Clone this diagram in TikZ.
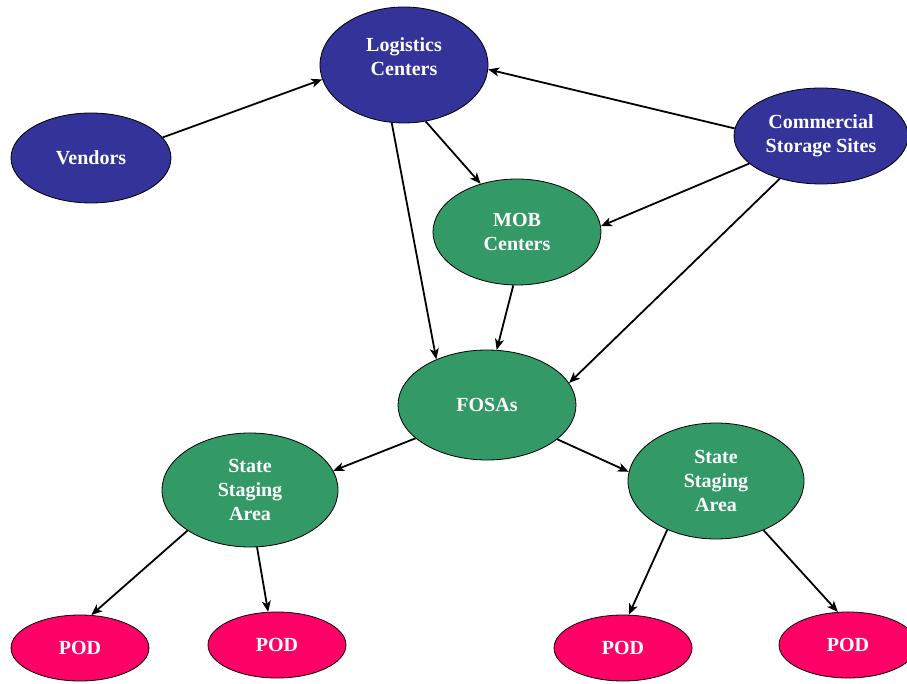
\documentclass[tikz,border=0pt]{standalone}
\usepackage{fontspec}
\setmainfont{Liberation Serif}
\usetikzlibrary{arrows.meta,shapes.geometric}
\definecolor{navy}{HTML}{333399}
\definecolor{grn}{HTML}{339966}
\definecolor{pnk}{HTML}{FF0066}
\begin{document}
\begin{tikzpicture}[x=1pt,y=1pt,
  base/.style={ellipse,draw=black,line width=0.8pt,inner sep=0pt,text=white,
    font=\fontsize{20}{24}\selectfont\bfseries,align=center},
  bluenode/.style={base,fill=navy},
  greennode/.style={base,fill=grn},
  podnode/.style={base,fill=pnk,minimum width=138pt,minimum height=66pt},
  txt/.style={text=white,font=\fontsize{20}{24}\selectfont\bfseries,align=center,inner sep=0pt},
  arr/.style={-{Stealth[length=11pt,width=9pt,inset=3pt]},line width=1.8pt,black}]
\clip (0,0) rectangle (907,683);
\fill[white] (0,0) rectangle (907,683);
% nodes
\node[bluenode,minimum width=168pt,minimum height=116pt] (lc) at (404,618) {};
\node[txt] (lct) at (404,626) {Logistics\\Centers};
\node[bluenode,minimum width=160pt,minimum height=90pt] (ven) at (91,525) {Vendors};
\node[bluenode,minimum width=174pt,minimum height=96pt] (css) at (821,547) {Commercial\\Storage Sites};
\node[greennode,minimum width=168pt,minimum height=106pt] (mob) at (517,451) {MOB\\Centers};
\node[greennode,minimum width=178pt,minimum height=110pt] (fosa) at (487,278) {FOSAs};
\node[greennode,minimum width=176pt,minimum height=114pt] (ssal) at (250,193) {State\\Staging\\Area};
\node[greennode,minimum width=176pt,minimum height=116pt] (ssar) at (716,202) {State\\Staging\\Area};
\node[podnode] (pod1) at (80,35) {POD};
\node[podnode] (pod2) at (277,38) {POD};
\node[podnode] (pod3) at (623,35) {POD};
\node[podnode] (pod4) at (848,38) {POD};
% connectors
\draw[arr] (ven.16) -- (lc.190);
\draw[arr] (lc.258) -- (fosa.138);
\draw[arr] (lc.291) -- (mob.127);
\draw[arr] (css.175) -- (lc.357);
\draw[arr] (css.201) -- (mob.4);
\draw[arr] (css.226) -- (fosa.15);
\draw[arr] (mob.266) -- (fosa.80);
\draw[arr] (fosa.205) -- (ssal.13);
\draw[arr] (fosa.334) -- (ssar.174);
\draw[arr] (ssal.213) -- (pod1.71);
\draw[arr] (ssal.277) -- (pod2.105);
\draw[arr] (ssar.225) -- (pod3.80);
\draw[arr] (ssar.314) -- (pod4.107);
\end{tikzpicture}
\end{document}
